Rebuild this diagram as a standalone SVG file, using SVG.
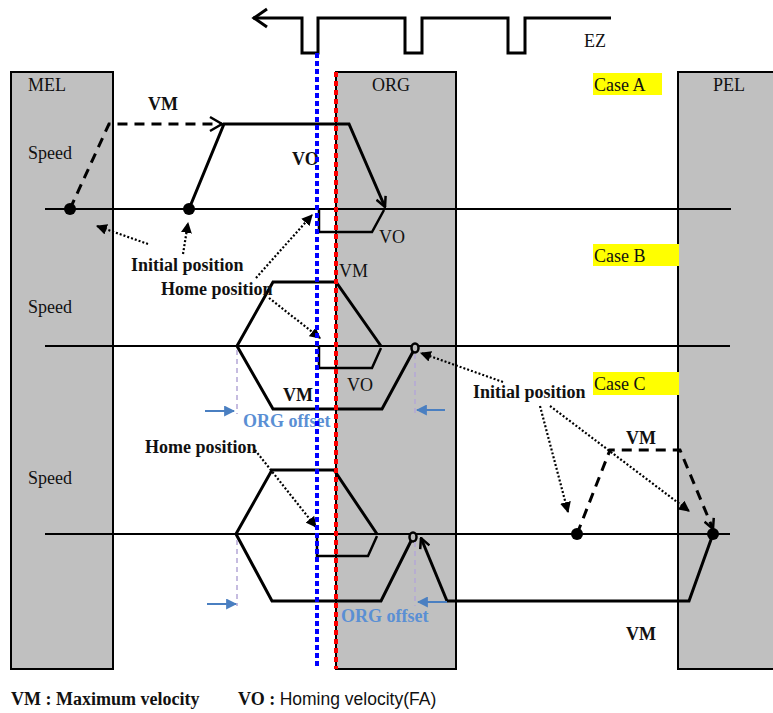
<svg xmlns="http://www.w3.org/2000/svg" width="773" height="713" viewBox="0 0 773 713">
<defs>
<style>
.box{fill:#c0c0c0;stroke:#000;stroke-width:2}
.axis{stroke:#000;stroke-width:1.8;fill:none}
.prof{stroke:#000;stroke-width:3;fill:none;stroke-linejoin:miter}
.dash{stroke:#000;stroke-width:3;fill:none;stroke-dasharray:10,7}
.dot{stroke:#000;stroke-width:2.2;fill:none;stroke-dasharray:2,2}
.pd{stroke:#b4a7d6;stroke-width:1.5;stroke-dasharray:5,4;fill:none}
.ba{stroke:#4a7fc1;stroke-width:2;fill:none}
.t{font-family:"Liberation Serif","Times New Roman",serif;font-size:18px;fill:#111}
.b{font-weight:bold}
.blue{fill:#5a8fd4;font-weight:bold}
.hl{fill:#ffff00}
</style>
<marker id="open" viewBox="0 0 12 12" refX="11" refY="6" markerWidth="12" markerHeight="12" markerUnits="userSpaceOnUse" orient="auto"><path d="M1,1 L11,6 L1,11" fill="none" stroke="#000" stroke-width="2.5"/></marker>
<marker id="tri" viewBox="0 0 10 10" refX="9" refY="5" markerWidth="11" markerHeight="11" markerUnits="userSpaceOnUse" orient="auto"><path d="M0,0 L10,5 L0,10 z" fill="#000"/></marker>
<marker id="btri" viewBox="0 0 10 10" refX="9" refY="5" markerWidth="11" markerHeight="11" markerUnits="userSpaceOnUse" orient="auto"><path d="M0,0 L10,5 L0,10 z" fill="#4a7fc1"/></marker>
</defs>
<rect width="773" height="713" fill="#fff"/>

<g id="ez">
<path d="M253,18 H302 V53 H318 V18 H405 V53 H422 V18 H508 V53 H525 V18 H611" fill="none" stroke="#000" stroke-width="3"/>
<path d="M267,9 L254,18 L267,27" fill="none" stroke="#000" stroke-width="3"/>
<text class="t" x="584" y="47">EZ</text>
</g>

<g id="mel"><rect class="box" x="11" y="72" width="102" height="597"/><text class="t" x="28" y="91">MEL</text></g>
<g id="org"><rect class="box" x="336" y="72" width="120" height="597"/><text class="t" x="372" y="91">ORG</text></g>
<g id="pel"><rect class="box" x="678" y="72" width="110" height="597"/><text class="t" x="713" y="91">PEL</text></g>

<g id="caseA-label"><rect class="hl" x="593" y="73" width="69" height="22"/><text class="t" x="594" y="91">Case A</text></g>
<g id="caseB-label"><rect class="hl" x="593" y="244" width="86" height="22"/><text class="t" x="594" y="262">Case B</text></g>
<g id="caseC-label"><rect class="hl" x="593" y="372" width="86" height="23"/><text class="t" x="594" y="390">Case C</text></g>

<g id="connectors">
<!-- Case A -->
<line class="axis" x1="45" y1="209" x2="731" y2="209"/>
<path class="dash" d="M70,209 L109,124 H222"/>
<path d="M210,117 L222,124 L210,131" fill="none" stroke="#000" stroke-width="2.5"/>
<path class="prof" d="M189,209 L224,124 H349 L385,207" marker-end="url(#open)"/>
<path class="prof" style="stroke-width:2.5" d="M319,210 V232 H372 L384,210"/>
<circle cx="70" cy="209" r="6" fill="#000"/>
<circle cx="189" cy="209" r="6" fill="#000"/>
<line class="dot" x1="148" y1="244" x2="97" y2="226" marker-end="url(#tri)"/>
<line class="dot" x1="183" y1="254" x2="188" y2="223" marker-end="url(#tri)"/>
<line class="dot" x1="256" y1="278" x2="312" y2="215" marker-end="url(#tri)"/>

<!-- Case B -->
<line class="axis" x1="45" y1="346" x2="730" y2="346"/>
<path class="prof" d="M237,346 L273,282 H336 L381,346"/>
<path class="prof" d="M237,346 L273,409 H382 L415,348"/>
<path class="prof" style="stroke-width:2.5" d="M319,346 V368 H372 L381,348"/>
<ellipse cx="415" cy="348" rx="3.5" ry="4.5" fill="#bbb" stroke="#000" stroke-width="2.5"/>
<line class="pd" x1="237" y1="350" x2="237" y2="414"/>
<line class="pd" x1="415" y1="354" x2="415" y2="414"/>
<line class="ba" x1="205" y1="411" x2="234" y2="411" marker-end="url(#btri)"/>
<line class="ba" x1="445" y1="410" x2="417" y2="410" marker-end="url(#btri)"/>
<line class="dot" x1="269" y1="298" x2="320" y2="338" marker-end="url(#tri)"/>
<line class="dot" x1="503" y1="382" x2="421" y2="353" marker-end="url(#tri)"/>

<!-- Case C -->
<line class="axis" x1="45" y1="534" x2="730" y2="534"/>
<path class="prof" d="M236,534 L272,470 H334 L377,534"/>
<path class="prof" d="M236,534 L272,601 H381 L413,537"/>
<path class="prof" d="M447,601 L421,538" marker-end="url(#open)"/>
<path class="prof" d="M447,601 H689 L713,534"/>
<path class="prof" style="stroke-width:2.5" d="M317,534 V556 H368 L377,536"/>
<ellipse cx="413" cy="537" rx="3.5" ry="4.5" fill="#bbb" stroke="#000" stroke-width="2.5"/>
<path class="dash" d="M577,534 L610,450 H680 L713,529" marker-end="url(#open)"/>
<circle cx="577" cy="534" r="6" fill="#000"/>
<circle cx="713" cy="534" r="6" fill="#000"/>
<line class="pd" x1="237" y1="540" x2="237" y2="606"/>
<line class="pd" x1="415" y1="542" x2="415" y2="606"/>
<line class="ba" x1="207" y1="604" x2="236" y2="604" marker-end="url(#btri)"/>
<line class="ba" x1="447" y1="602" x2="418" y2="602" marker-end="url(#btri)"/>
<line class="dot" x1="255" y1="450" x2="316" y2="527" marker-end="url(#tri)"/>
<line class="dot" x1="540" y1="406" x2="568" y2="512" marker-end="url(#tri)"/>
<line class="dot" x1="550" y1="406" x2="689" y2="511" marker-end="url(#tri)"/>
</g>

<g id="labels">
<text class="t b" x="148" y="110">VM</text>
<text class="t" x="28" y="159">Speed</text>
<text class="t b" x="292" y="165">VO</text>
<text class="t" x="379" y="243">VO</text>
<text class="t b" x="131" y="271">Initial position</text>
<text class="t b" x="161" y="295">Home position</text>
<text class="t" x="339" y="277">VM</text>
<text class="t" x="28" y="313">Speed</text>
<text class="t" x="347" y="391">VO</text>
<text class="t b" x="283" y="401">VM</text>
<text class="t blue" x="243" y="427">ORG offset</text>
<text class="t b" x="473" y="398">Initial position</text>
<text class="t b" x="145" y="453">Home position</text>
<text class="t b" x="626" y="444">VM</text>
<text class="t" x="28" y="484">Speed</text>
<text class="t blue" x="341" y="622">ORG offset</text>
<text class="t b" x="626" y="640">VM</text>
<text class="t b" x="11" y="705">VM : Maximum velocity</text>
<text class="t b" x="238" y="705">VO : <tspan style="font-family:'Liberation Sans',Arial,sans-serif;font-size:17.5px;font-weight:normal">Homing velocity(FA)</tspan></text>
</g>

<g id="guides">
<line x1="317" y1="53" x2="317" y2="669" stroke="#0000ff" stroke-width="4" stroke-dasharray="5,3"/>
<line x1="336" y1="72" x2="336" y2="669" stroke="#ff0000" stroke-width="4" stroke-dasharray="5,4"/>
</g>
</svg>
